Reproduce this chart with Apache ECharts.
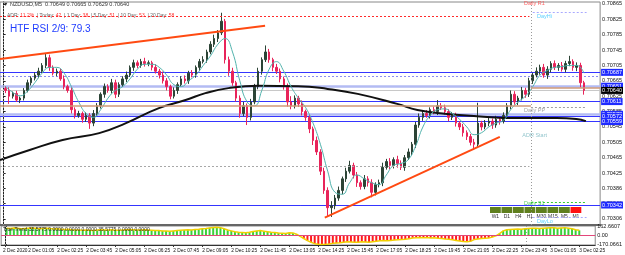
<!DOCTYPE html>
<html>
<head>
<meta charset="utf-8">
<script src="https://cdn.jsdelivr.net/npm/echarts@6/dist/echarts.min.js"></script>
<style>
  html, body { margin: 0; padding: 0; background: #fff; }
  #chart { width: 625px; height: 255px; }
</style>
</head>
<body>
<div id="chart"></div>
<script>
// prices are stored as points above 0.70000 (645 -> 0.70645), one candle per 10 minutes
const firstOpen = 645;
const closes = [
  640,625,632,615,620,640,660,672,680,690,
  705,725,700,685,690,670,650,640,590,575,
  580,565,575,555,580,600,630,650,640,660,
  630,655,670,680,700,712,705,715,710,712,
  700,690,680,665,650,625,640,655,670,665,
  685,680,700,715,720,740,760,775,790,820,
  720,690,660,620,580,600,570,610,650,690,
  720,740,720,700,690,670,650,610,600,620,
  605,585,570,540,510,480,430,380,335,340,
  360,380,410,430,445,420,400,390,410,400,
  375,395,400,440,455,445,460,450,440,465,
  480,500,550,570,580,575,590,585,600,595,
  585,570,575,555,545,530,520,505,500,555,
  545,555,560,550,565,560,575,600,630,610,
  620,640,630,665,680,690,700,680,695,710,
  700,705,695,710,715,700,705,660,640
];
const hiWick = [
  6,8,5,7,4,6,8,5,7,9, 6,10,8,5,7,6,9,5,8,6, 7,5,8,6,9,7,5,8,6,10,
  8,6,7,9,5,8,6,7,10,6, 5,8,6,9,7,5,8,6,7,9, 6,8,5,7,9,6,8,10,7,22,
  6,8,9,5,7,10,6,8,7,9, 6,17,8,5,9,7,6,8,15,7, 6,9,5,8,6,10,7,9,8,12,
  8,10,6,9,12,7,8,6,10,7, 9,6,8,12,7,9,6,10,8,7, 9,6,8,10,7,9,6,8,15,7,
  8,6,9,7,5,8,6,7,9,53, 6,8,10,7,9,6,8,7,10,8, 6,9,7,8,6,10,7,9,8,6,
  8,6,9,7,15,6,8,7,5
];
const loWick = [
  7,20,6,5,8,6,5,7,6,8, 5,7,9,6,8,5,7,6,10,8, 6,9,7,15,8,6,7,9,6,8,
  10,7,6,8,5,9,7,6,8,7, 8,6,9,7,10,8,6,9,5,7, 8,6,7,9,5,8,6,7,9,6,
  10,12,8,9,11,7,20,8,6,7, 9,6,8,10,7,9,8,12,9,7, 8,10,9,11,12,8,10,9,23,24,
  9,7,10,8,6,9,11,8,7,10, 13,8,7,9,6,10,8,11,7,9, 6,8,10,7,9,6,8,7,9,6,
  8,10,7,9,8,10,9,8,15,7, 9,6,8,10,7,9,6,8,9,7, 8,6,9,7,8,6,9,7,10,8,
  7,9,6,8,7,9,10,12,11
];
// fast MA, every second candle
const fastMA = [
  650,635,626,638,660,685,700,700,685,650,
  610,580,570,590,620,640,650,670,695,708,
  708,700,680,655,650,665,680,705,730,760,
  775,740,665,610,600,640,695,715,690,650,
  620,595,555,500,430,375,370,400,420,410,
  400,395,420,445,450,460,495,545,575,590,
  592,580,565,545,525,530,545,555,562,590,
  610,625,650,680,692,700,702,705,705,685
];
// slow MA (minutes from 2 Dec 00:00, points)
const slowT = [-10,71,161,261,334,424,497,551,614,695,804,885,967,1075,1130,1211,1292,1401,1510,1564,1590];
const slowV = [459,485,511,529,555,594,615,633,646,652,651,644,631,605,589,579,573,568,568,566,560];
// trend lines [t1, v1, t2, v2]
const upperTrend = [-10, 722, 714, 808];
const lowerTrend = [877, 309, 1355, 519];
// True Trend histogram
const trend = [
  130,125,135,128,120,125,130,135,128,120,
  125,130,122,115,118,112,105,110,100,95,
  98,92,95,90,88,95,100,98,95,100,
  92,90,95,100,105,102,98,95,100,96,
  92,88,85,80,78,75,80,85,90,95,
  100,98,105,110,118,125,135,142,145,140,
  120,95,80,65,55,50,45,55,70,80,
  85,75,65,55,50,40,35,30,45,40,
  20,-20,-60,-100,-130,-155,-165,-170,-168,-160,
  -150,-145,-140,-130,-120,-125,-130,-128,-120,-125,
  -130,-120,-110,-100,-95,-100,-95,-90,-85,-80,
  -75,-65,-50,-45,-40,-45,-40,-50,-45,-55,
  -60,-70,-75,-85,-95,-105,-115,-120,-110,-80,
  -70,-60,-55,-50,-35,-10,30,80,100,105,
  110,115,112,120,125,130,128,125,130,135,
  140,138,130,135,140,130,120,100,90
];
const blueLevels = [0.70687, 0.70611, 0.70572, 0.70559, 0.70342];
const lavenderLevels = [0.70651, 0.70578];
const dottedLevel = 0.70678;
const bidPrice = 0.70640;
// partial levels [t1, t2, points]
const adrHigh = [-10, 1436, 834];
const adrLow = [-10, 1436, 444];
const prevClose = [-10, 1440, 600];
const todayOpen = [1440, 1629, 646];
const dayHi = [1445, 1592, 844];
const dayLo = [1445, 1592, 309];
const dailyPP = [1440, 1592, 597];
const dailyS1 = [1440, 1592, 350];
const separators = [0, 1440];
const noteNames = ['Daily R1', 'DayHi', 'Daily PP', 'ADR Start', 'Daily S1', 'DayLo'];
const noteT = [1420, 1455, 1420, 1415, 1420, 1455];
const noteV = [867, 833, 587, 524, 347, 298];
const priceTicks = ['0.70306','0.70346','0.70386','0.70425','0.70465','0.70505','0.70545','0.70585','0.70625','0.70665','0.70705','0.70745','0.70785','0.70825','0.70865'];
const timeTicks = [0,65,145,225,305,385,465,545,625,705,785,865,945,1025,1105,1185,1265,1345,1425,1505,1585];
const timeLabels = ['2 Dec 2020','2 Dec 01:05','2 Dec 02:25','2 Dec 03:45','2 Dec 05:05','2 Dec 06:25','2 Dec 07:45',
  '2 Dec 09:05','2 Dec 10:25','2 Dec 11:45','2 Dec 13:05','2 Dec 14:25','2 Dec 15:45','2 Dec 17:05','2 Dec 18:25',
  '2 Dec 19:45','2 Dec 21:05','2 Dec 22:25','2 Dec 23:45','3 Dec 01:05','3 Dec 02:25'];
const trendTicks = [162.6607, 0, -170.0661];
const tfLabels = ['W1','D1','H4','H1','M30','M15','M5','M1'];
const tfUp = [1,1,1,1,1,1,1,0];

const P = v => +(0.7 + v / 1e5).toFixed(5);
const FONT = 'Liberation Sans';
const tMin = -10, tMax = 1629;

const candles = closes.map((c, i) => {
  const o = i ? closes[i - 1] : firstOpen;
  return [10 * i + 5, P(o), P(c), P(Math.min(o, c) - (loWick[i] || 5)), P(Math.max(o, c) + (hiWick[i] || 5))];
});
const fastData = fastMA.map((v, k) => [20 * k + 5, P(v)]);
const slowData = slowT.map((t, k) => [t, P(slowV[k])]);
const trendData = trend.map((v, i) => [10 * i + 5, v]);

function seg(s, color, type, width) {
  return [
    { coord: [s[0], P(s[2])], lineStyle: { color: color, type: type, width: width } },
    { coord: [s[1], P(s[2])] }
  ];
}
function level(y, color, width, type, boxColor) {
  return {
    yAxis: y,
    lineStyle: { color: color, width: width, type: type || 'solid' },
    label: boxColor ? {
      show: true, position: 'end', distance: 1, formatter: y.toFixed(5),
      backgroundColor: boxColor, color: '#fff', fontSize: 5.5, fontFamily: FONT,
      padding: [1, 1, 0, 1]
    } : { show: false }
  };
}
const noteColors = { 'Daily R1': '#ff3b3b', 'DayHi': '#33c6ff', 'Daily PP': '#8c8c8c', 'ADR Start': '#77b6bf', 'Daily S1': '#2fc43a', 'DayLo': '#33c6ff' };
const timeAxisLabel = { align: 'left', margin: 3, fontSize: 4.8, color: '#111', fontFamily: FONT };

const chart = echarts.init(document.getElementById('chart'), null, { renderer: 'canvas' });
const option = {
  animation: false,
  backgroundColor: '#fff',
  grid: [
    { left: 0, right: 21, top: 2, height: 223, show: true, borderColor: '#888', borderWidth: 1 },
    { left: 0, right: 21, top: 226, height: 19, show: true, borderColor: '#888', borderWidth: 1 }
  ],
  xAxis: [
    { type: 'value', gridIndex: 0, min: tMin, max: tMax, axisLine: { show: true, onZero: false, lineStyle: { color: '#666', width: 2 } }, axisTick: { show: false }, axisLabel: { show: false }, splitLine: { show: false } },
    { type: 'value', gridIndex: 1, position: 'bottom', min: tMin, max: tMax,
      axisLine: { onZero: false, lineStyle: { color: '#333' } },
      axisTick: { customValues: timeTicks, length: 2, lineStyle: { color: '#333' } },
      axisLabel: Object.assign({ customValues: timeTicks.slice(1), formatter: v => timeLabels[timeTicks.indexOf(v)] }, timeAxisLabel),
      splitLine: { show: false } },
    // MT4 pins the first date label to the left edge, so it gets its own axis
    { type: 'value', gridIndex: 1, position: 'bottom', min: tMin, max: tMax,
      axisLine: { show: false }, axisTick: { show: false },
      axisLabel: Object.assign({ customValues: [tMin + 5], formatter: () => timeLabels[0] }, timeAxisLabel),
      splitLine: { show: false } }
  ],
  yAxis: [
    { type: 'value', gridIndex: 0, position: 'right', min: 0.7029, max: 0.7087, scale: true,
      axisLine: { show: true, lineStyle: { color: '#222' } },
      axisTick: { customValues: priceTicks.map(Number), length: 2, lineStyle: { color: '#222' } },
      axisLabel: { customValues: priceTicks.map(Number), formatter: v => v.toFixed(5), margin: 2, fontSize: 5.5, color: '#111', fontFamily: FONT },
      splitLine: { show: false } },
    { type: 'value', gridIndex: 1, position: 'right', min: -180, max: 170,
      axisLine: { show: true, lineStyle: { color: '#222' } },
      axisTick: { customValues: trendTicks, length: 2 },
      axisLabel: { customValues: trendTicks, formatter: v => v === 0 ? '0.00' : v.toFixed(4), margin: 2, fontSize: 5.5, color: '#111', fontFamily: FONT, showMinLabel: true, showMaxLabel: true },
      splitLine: { show: false } }
  ],
  series: [
    {
      type: 'candlestick', xAxisIndex: 0, yAxisIndex: 0, data: candles, barWidth: 2, z: 3,
      itemStyle: { color: '#2c4436', color0: '#e8245a', borderColor: '#2c4436', borderColor0: '#e8245a', borderWidth: 1 },
      markLine: {
        silent: true, symbol: ['none', 'none'], animation: false, precision: 5,
        data: [
          ...separators.map(t => ({ xAxis: t, lineStyle: { color: '#9a9a9a', type: [1, 2], width: 1 }, label: { show: false } })),
          seg(adrHigh, '#ff2a2a', [2, 2], 1),
          seg(adrLow, '#a8a8a8', [2, 2], 1),
          seg(prevClose, '#cf9a78', 'solid', 1.5),
          seg(todayOpen, '#cf9a78', 'solid', 1.5),
          seg(dayHi, '#a9a9ff', [2, 2], 1),
          seg(dayLo, '#a9a9ff', [2, 2], 1),
          seg(dailyPP, '#a0a0a0', [2, 2], 1),
          seg(dailyS1, '#33cc33', [2, 2], 1)
        ]
      }
    },
    { type: 'line', xAxisIndex: 0, yAxisIndex: 0, data: slowData, showSymbol: false, smooth: true, lineStyle: { color: '#111', width: 2 }, z: 4,
      markLine: {
        silent: true, symbol: ['none', 'none'], animation: false, precision: 5, z: 2,
        data: [
          level(dottedLevel, '#8c8cf0', 1, [2, 2]),
          ...lavenderLevels.map(y => level(y, '#b3bbf3', 2.5, 'solid', '#1f2bff')),
          ...blueLevels.map(y => level(y, '#3535ff', 1, 'solid', '#1f2bff')),
          level(bidPrice, '#c8c8c8', 1, 'solid', '#000')
        ]
      }
    },
    { type: 'line', xAxisIndex: 0, yAxisIndex: 0, data: fastData, showSymbol: false, smooth: true, lineStyle: { color: '#52b3ad', width: 1 }, z: 4 },
    { type: 'line', xAxisIndex: 0, yAxisIndex: 0, data: [[upperTrend[0], P(upperTrend[1])], [upperTrend[2], P(upperTrend[3])]], showSymbol: false, lineStyle: { color: '#ff4a12', width: 2 }, z: 5 },
    { type: 'line', xAxisIndex: 0, yAxisIndex: 0, data: [[lowerTrend[0], P(lowerTrend[1])], [lowerTrend[2], P(lowerTrend[3])]], showSymbol: false, lineStyle: { color: '#ff4a12', width: 2 }, z: 5 },
    {
      type: 'scatter', xAxisIndex: 0, yAxisIndex: 0, symbolSize: 1, z: 6,
      itemStyle: { color: 'rgba(0,0,0,0)' },
      data: noteNames.map((n, k) => ({
        name: n, value: [noteT[k], P(noteV[k])],
        label: { show: true, position: 'right', distance: 0, fontSize: 5.5, fontFamily: FONT, formatter: n, color: noteColors[n] }
      }))
    },
    {
      type: 'bar', xAxisIndex: 1, yAxisIndex: 1, data: trendData, barWidth: 2,
      itemStyle: { color: p => p.value[1] >= 0 ? '#3ad13a' : '#ff1a1a' },
      markLine: {
        silent: true, symbol: ['none', 'none'], animation: false,
        data: [
          { yAxis: 0, lineStyle: { color: '#e2487a', width: 1, type: 'solid' }, label: { show: false } },
          ...separators.map(t => ({ xAxis: t, lineStyle: { color: '#9a9a9a', type: [1, 2], width: 1 }, label: { show: false } }))
        ]
      }
    },
    { type: 'line', xAxisIndex: 1, yAxisIndex: 1, data: trendData, showSymbol: false, lineStyle: { color: '#f2d000', width: 1.5 }, z: 3 }
  ],
  graphic: [
    { type: 'text', left: 3, top: 1, style: { text: '\u25BC NZDUSD,M5  0.70649 0.70665 0.70629 0.70640', fontSize: 5.5, fontFamily: FONT, fill: '#333' } },
    { type: 'text', left: 7, top: 13, style: {
        text: 'ADR: {r|11.2%}  | Today: {r|42}  | 1 Day: {r|38}  | 5 Day: {r|51}  | 10 Day: {r|53}  | 20 Day: {r|58}',
        fontSize: 5, fontFamily: FONT, fill: '#666', rich: { r: { fill: '#ff3030', fontSize: 5, fontFamily: FONT } } } },
    { type: 'text', left: 10, top: 24, style: { text: 'HTF RSI 2/9: 79.3', fontSize: 10, fontFamily: FONT, fill: '#1f3cff' } },
    { type: 'text', left: 3, top: 227, style: { text: 'True Trend 35.5775 0.0000 0.0000 0.0000 35.5775 0.0000 0.0000', fontSize: 5, fontFamily: FONT, fill: '#222' }, z: 10 },
    {
      type: 'group', left: 490, top: 207, z: 20,
      children: tfLabels.flatMap((lab, k) => [
        { type: 'rect', shape: { x: k * 11.5, y: 0, width: 10.8, height: 6 }, style: { fill: tfUp[k] ? '#5f7f1d' : '#ff1010' } },
        { type: 'text', x: k * 11.5 + 5.4, y: 7.5, style: { text: lab, fontSize: 5, fontFamily: FONT, fill: '#333', align: 'center' } }
      ])
    }
  ]
};
chart.setOption(option);
</script>
</body>
</html>
